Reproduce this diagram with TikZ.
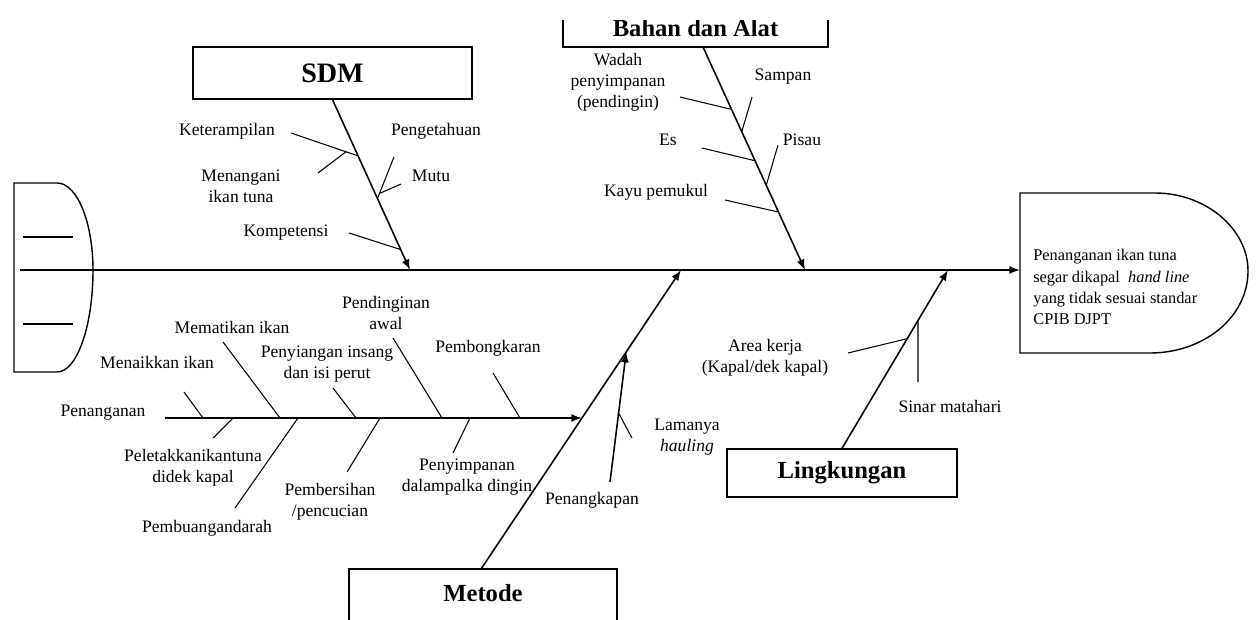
\documentclass[tikz,border=0pt]{standalone}
\usepackage{fontspec}
\setmainfont{Liberation Serif}
\usetikzlibrary{calc,arrows.meta,positioning}

\tikzstyle{cat} = [draw=black, line width=0.8pt, inner sep=0pt, font=\fontsize{14}{14}\selectfont\bfseries]
\tikzstyle{lbl} = [inner sep=0pt, align=center, font=\fontsize{10}{12}\selectfont]
\tikzstyle{bone} = [line width=0.9pt, -{Latex[length=6pt,width=4.5pt]}]
\tikzstyle{twig} = [line width=0.6pt]

\begin{document}
\begin{tikzpicture}[x=0.02cm, y=-0.02cm]
\useasboundingbox (0,0) rectangle (1256,619);
\begin{scope}
\clip (0,20) rectangle (1256,619);

% Define nodes
\node[cat, minimum width=5.58cm, minimum height=1.04cm, font=\fontsize{16}{16}\selectfont\bfseries] (sdm) at (332.5,73) {SDM};
\node[cat, minimum width=5.3cm,  minimum height=0.76cm]  (bahan)  at (695.5,28) {Bahan dan Alat};
\node[cat, minimum width=5.36cm, minimum height=1.14cm, text depth=5pt] (metode) at (483,597.5) {Metode};
\node[cat, minimum width=4.6cm,  minimum height=0.96cm]  (lingk)  at (842,473)  {Lingkungan};

\node[lbl] (keterampilan) at (227,131) {Keterampilan};
\node[lbl] (menangani)    at (241,186) {Menangani\\ikan tuna};
\node[lbl] (pengetahuan)  at (436,131) {Pengetahuan};
\node[lbl] (mutu)         at (431,176) {Mutu};
\node[lbl] (kompetensi)   at (286,233) {Kompetensi};

\node[lbl] (wadah)  at (618,82)  {Wadah\\penyimpanan\\(pendingin)};
\node[lbl] (sampan) at (783,77)  {Sampan};
\node[lbl] (es)     at (668,140) {Es};
\node[lbl] (pisau)  at (802,140) {Pisau};
\node[lbl] (kayu)   at (656,192) {Kayu pemukul};

\node[lbl] (pendinginan)  at (386,313) {Pendinginan\\awal};
\node[lbl] (mematikan)    at (232,327) {Mematikan ikan};
\node[lbl] (menaikkan)    at (157,362) {Menaikkan ikan};
\node[lbl] (penyiangan)   at (327,364) {Penyiangan insang\\dan isi perut};
\node[lbl] (pembongkaran) at (488,348) {Pembongkaran};
\node[lbl] (penanganan)   at (103,413) {Penanganan};
\node[lbl] (peletakkan)   at (193,468) {Peletakkanikantuna\\didek kapal};
\node[lbl] (pembuangan)   at (207,528) {Pembuangandarah};
\node[lbl] (pembersihan)  at (330,502) {Pembersihan\\/pencucian};
\node[lbl] (penyimpanan)  at (467,477) {Penyimpanan\\dalampalka dingin};
\node[lbl] (penangkapan)  at (592,500) {Penangkapan};
\node[lbl] (lamanya)      at (687,437) {Lamanya\\\textit{hauling}};

\node[lbl] (area)  at (765,358) {Area kerja\\(Kapal/dek kapal)};
\node[lbl] (sinar) at (950,406) {Sinar matahari};

\node[lbl, align=left, anchor=west, font=\fontsize{9.3}{12}\selectfont] (effect) at (1033,287)
  {Penanganan ikan tuna\\segar dikapal~~\textit{hand line}\\yang tidak sesuai standar\\CPIB DJPT};

% Tail and head
\draw[line width=0.8pt] (14,183) -- (57,183) .. controls (77,183) and (93,222) .. (93,270)
  .. controls (93,326) and (77,372) .. (57,372) -- (14,372) -- cycle;
\draw[twig] (23,237) -- (73,237);
\draw[twig] (23,324) -- (73,324);
\draw[line width=0.8pt] (1020,193) -- (1155,193) .. controls (1206,193) and (1248,229) .. (1248,271)
  .. controls (1248,317) and (1204,353) .. (1150,353) -- (1020,353) -- cycle;

% Coordinates
\coordinate (tail)   at (20,270);
\coordinate (head)   at (1020,270);
\coordinate (sdmT)   at (410,270);
\coordinate (bahanB) at (703,47);
\coordinate (bahanT) at (805,270);
\coordinate (metT)   at (681,270);
\coordinate (lingT)  at (948,270);

\coordinate (ketF) at (291,133);
\coordinate (ketJ) at ($(sdm.south)!0.33!(sdmT)$);
\coordinate (menF) at (318,173);
\coordinate (menJ) at ($(ketF)!0.82!(ketJ)$);
\coordinate (pengF) at (394,157);
\coordinate (pengJ) at ($(sdm.south)!0.58!(sdmT)$);
\coordinate (mutF) at (401,184);
\coordinate (mutJ) at ($(pengF)!0.88!(pengJ)$);
\coordinate (kompF) at (349,233);
\coordinate (kompJ) at ($(sdm.south)!0.88!(sdmT)$);

\coordinate (wadF) at (680,97);
\coordinate (wadJ) at ($(bahanB)!0.28!(bahanT)$);
\coordinate (samF) at (752,97);
\coordinate (samJ) at ($(bahanB)!0.38!(bahanT)$);
\coordinate (esF)  at (702,148);
\coordinate (esJ)  at ($(bahanB)!0.51!(bahanT)$);
\coordinate (pisF) at (778,145);
\coordinate (pisJ) at ($(bahanB)!0.62!(bahanT)$);
\coordinate (kayF) at (725,200);
\coordinate (kayJ) at ($(bahanB)!0.74!(bahanT)$);

\coordinate (metB) at (481,569);
\coordinate (pnS)  at (165,418);
\coordinate (pnJ)  at ($(metB)!0.505!(metT)$);
\coordinate (pgkF) at (610,482);
\coordinate (pgkJ) at ($(metB)!0.726!(metT)$);
\coordinate (lamF) at (632,438);
\coordinate (lamJ) at ($(pgkF)!0.53!(pgkJ)$);

\coordinate (nkF) at (184,392);  \coordinate (nkJ) at (203,418);
\coordinate (mtF) at (223,342);  \coordinate (mtJ) at (280,418);
\coordinate (pyF) at (333,388);  \coordinate (pyJ) at (356,418);
\coordinate (pdF) at (393,338);  \coordinate (pdJ) at (442,418);
\coordinate (pbF) at (493,373);  \coordinate (pbJ) at (520,418);
\coordinate (plF) at (213,438);  \coordinate (plJ) at (233,418);
\coordinate (buF) at (235,508);  \coordinate (buJ) at (298,418);
\coordinate (bsF) at (347,472);  \coordinate (bsJ) at (380,418);
\coordinate (psF) at (453,453);  \coordinate (psJ) at (470,418);

\coordinate (arF) at (848,353);
\coordinate (arJ) at ($(lingk.north)!0.615!(lingT)$);
\coordinate (snF) at (918,382);
\coordinate (snJ) at ($(lingk.north)!0.717!(lingT)$);

% Edges
\draw[bone] (tail) -- (head);
\draw[bone] (sdm.south) -- (sdmT);
\draw[bone] (bahanB) -- (bahanT);
\draw[bone] (metB) -- (metT);
\draw[bone] (lingk.north) -- (lingT);
\draw[bone] (pnS) -- (pnJ);
\draw[bone] (pgkF) -- (pgkJ);

\draw[twig] (ketF) -- (ketJ);
\draw[twig] (menF) -- (menJ);
\draw[twig] (pengF) -- (pengJ);
\draw[twig] (mutF) -- (mutJ);
\draw[twig] (kompF) -- (kompJ);

\draw[twig] (wadF) -- (wadJ);
\draw[twig] (samF) -- (samJ);
\draw[twig] (esF) -- (esJ);
\draw[twig] (pisF) -- (pisJ);
\draw[twig] (kayF) -- (kayJ);

\draw[twig] (nkF) -- (nkJ);
\draw[twig] (mtF) -- (mtJ);
\draw[twig] (pyF) -- (pyJ);
\draw[twig] (pdF) -- (pdJ);
\draw[twig] (pbF) -- (pbJ);
\draw[twig] (plF) -- (plJ);
\draw[twig] (buF) -- (buJ);
\draw[twig] (bsF) -- (bsJ);
\draw[twig] (psF) -- (psJ);
\draw[twig] (lamF) -- (lamJ);

\draw[twig] (arF) -- (arJ);
\draw[twig] (snF) -- (snJ);
\end{scope}
\end{tikzpicture}
\end{document}
